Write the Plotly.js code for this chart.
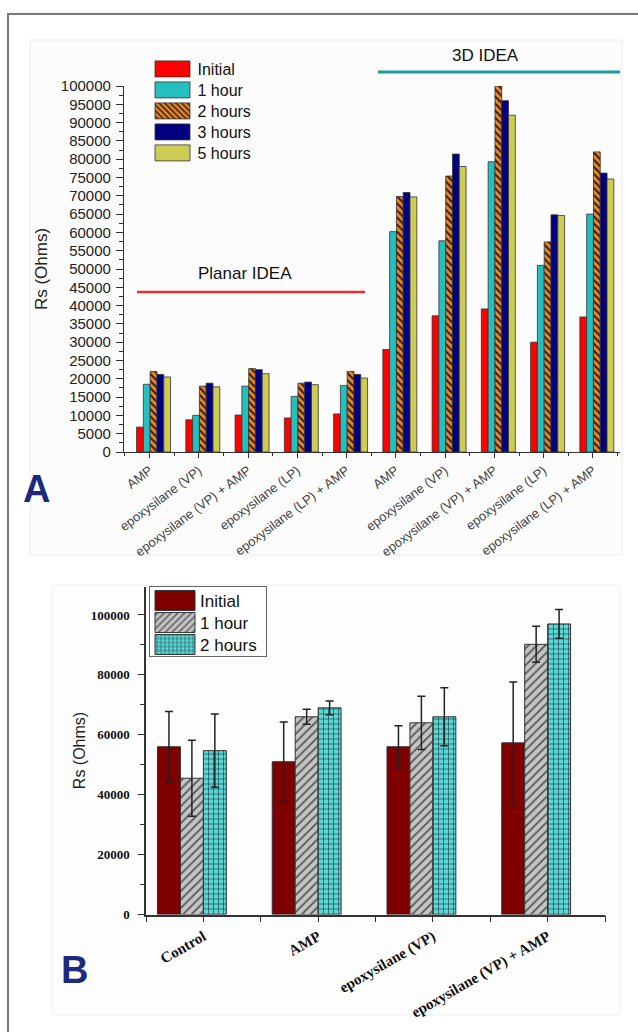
<!DOCTYPE html>
<html>
<head>
<meta charset="utf-8">
<script src="https://cdn.plot.ly/plotly-3.0.1.min.js"></script>
<style>html,body{margin:0;padding:0;background:#fff;}#chart{width:638px;height:1032px;}</style>
</head>
<body>
<div id="chart"></div>
<script>
// ---------- Panel A data ----------
const categoriesA = ['AMP','epoxysilane (VP)','epoxysilane (VP) + AMP','epoxysilane (LP)','epoxysilane (LP) + AMP',
                     'AMP','epoxysilane (VP)','epoxysilane (VP) + AMP','epoxysilane (LP)','epoxysilane (LP) + AMP'];
const seriesNamesA = ['Initial','1 hour','2 hours','3 hours','5 hours'];
const initialA = [6800, 8800, 10100, 9300, 10400, 28000, 37200, 39100, 30000, 36900];
const hour1A   = [18500, 10000, 18000, 15200, 18200, 60200, 57700, 79300, 51000, 65000];
const hour2A   = [22000, 18000, 22800, 18800, 22000, 69800, 75400, 100000, 57400, 82000];
const hour3A   = [21200, 18800, 22500, 19100, 21200, 70900, 81400, 96000, 64800, 76200];
const hour5A   = [20500, 17800, 21400, 18400, 20200, 69700, 78000, 92000, 64600, 74600];
const yTicksA  = [0,5000,10000,15000,20000,25000,30000,35000,40000,45000,50000,55000,60000,65000,70000,75000,80000,85000,90000,95000,100000];

// ---------- Panel B data ----------
const categoriesB = ['Control','AMP','epoxysilane (VP)','epoxysilane (VP) + AMP'];
const seriesNamesB = ['Initial','1 hour','2 hours'];
const initialB = [56000, 51000, 56000, 57300];
const errInitialB = [11800, 13300, 7000, 20300];
const hour1B = [45500, 66000, 64000, 90200];
const errHour1B = [12700, 2500, 8900, 6000];
const hour2B = [54700, 69000, 66000, 97000];
const errHour2B = [12200, 2300, 9700, 4800];
const yTicksB = [0,20000,40000,60000,80000,100000];

// ---------- helpers ----------
const W = 638, H = 1032;
const px = v => v / W;
const py = v => 1 - v / H;
const idx = arr => arr.map((_, i) => i);
const sans = 'Liberation Sans, Arial, sans-serif';
const serif = 'Liberation Serif, Times New Roman, serif';

// Panel A traces
const valsA = [initialA, hour1A, hour2A, hour3A, hour5A];
const stylesA = [
  {color:'#ff0000'},
  {color:'#26bfbf'},
  {color:'#ec8420', pattern:{shape:'\\', fgcolor:'#1a1a1a', bgcolor:'#ec8420', fillmode:'replace', size:5, solidity:0.35}},
  {color:'#000080'},
  {color:'#cdcd55'}
];
const bwA = 0.138, startA = -0.265;
const traces = [];
valsA.forEach((v, k) => {
  traces.push({
    type:'bar', x: idx(v), y: v, name: seriesNamesA[k],
    xaxis:'x', yaxis:'y', legend:'legend',
    width: bwA, offset: startA + k*bwA,
    marker: Object.assign({line:{color:'#333', width:0.8}}, stylesA[k]),
    hoverinfo:'y'
  });
});

// Panel B traces
const valsB = [initialB, hour1B, hour2B];
const errsB = [errInitialB, errHour1B, errHour2B];
const stylesB = [
  {color:'#7f0000'},
  {color:'#c4c4c4', pattern:{shape:'/', fgcolor:'#555555', bgcolor:'#c4c4c4', fillmode:'replace', size:6, solidity:0.3}},
  {color:'#5ad8d4', pattern:{shape:'+', fgcolor:'#1d2a3a', bgcolor:'#5ad8d4', fillmode:'replace', size:5, solidity:0.22}}
];
const bwB = 0.2, startB = -0.4;
valsB.forEach((v, k) => {
  traces.push({
    type:'bar', x: idx(v), y: v, name: seriesNamesB[k],
    xaxis:'x2', yaxis:'y2', legend:'legend2',
    width: bwB, offset: startB + k*bwB,
    marker: Object.assign({line:{color:'#333', width:1}}, stylesB[k]),
    error_y:{type:'data', array: errsB[k], visible:true, color:'#222', thickness:1.5, width:4},
    hoverinfo:'y'
  });
});

const layout = {
  width: W, height: H,
  margin:{l:0, r:0, t:0, b:0},
  paper_bgcolor:'#ffffff',
  plot_bgcolor:'rgba(0,0,0,0)',
  barmode:'group',
  showlegend:true,
  font:{family: sans, color:'#222'},
  xaxis:{
    domain:[px(124), px(620)], anchor:'y',
    range:[-0.52, 9.55], tickmode:'array', tickvals: idx(categoriesA), ticktext: categoriesA,
    tickangle:-37, tickfont:{family:sans, size:13, color:'#444'},
    ticks:'outside', ticklen:5, tickcolor:'#333',
    minor:{dtick:0.5, tick0:0.5, ticks:'outside', ticklen:3, tickcolor:'#333'},
    showline:true, linecolor:'#333', linewidth:1.2, showgrid:false, zeroline:false, fixedrange:true
  },
  yaxis:{
    domain:[py(452), py(86)], anchor:'x',
    range:[0, 100000], tickmode:'array', tickvals: yTicksA, ticktext: yTicksA.map(String),
    tickfont:{family:sans, size:15, color:'#222'},
    ticks:'outside', ticklen:7, tickcolor:'#333', ticklabelstandoff:2,
    minor:{dtick:2500, ticks:'outside', ticklen:4, tickcolor:'#333'},
    showline:true, linecolor:'#333', linewidth:1.2, showgrid:false, zeroline:false,
    title:{text:'Rs (Ohms)', font:{family:sans, size:17, color:'#222'}, standoff:8}, fixedrange:true
  },
  xaxis2:{
    domain:[px(146), px(605)], anchor:'y2',
    range:[-0.5, 3.5], tickmode:'array', tickvals: idx(categoriesB), ticktext: categoriesB,
    tickangle:-30, tickfont:{family:serif, size:15, color:'#111', weight:'bold'},
    ticks:'outside', ticklen:6, tickcolor:'#333',
    minor:{dtick:0.5, tick0:0.5, ticks:'outside', ticklen:6, tickcolor:'#333'},
    showline:true, linecolor:'#333', linewidth:1.5, showgrid:false, zeroline:false, fixedrange:true
  },
  yaxis2:{
    domain:[py(914.5), py(586.5)], anchor:'x2',
    range:[0, 109500], tickmode:'array', tickvals: yTicksB, ticktext: yTicksB.map(String),
    tickfont:{family:serif, size:13, color:'#111', weight:'bold'},
    ticks:'outside', ticklen:6, tickcolor:'#333', ticklabelstandoff:6,
    minor:{dtick:10000, ticks:'outside', ticklen:4, tickcolor:'#333'},
    showline:true, linecolor:'#333', linewidth:1.5, showgrid:false, zeroline:false,
    title:{text:'Rs (Ohms)', font:{family:sans, size:16, color:'#222'}, standoff:1}, fixedrange:true
  },
  legend:{
    x: px(147.5), y: py(52), xanchor:'left', yanchor:'top',
    bgcolor:'rgba(0,0,0,0)', borderwidth:0, itemwidth:40,
    font:{family:sans, size:16, color:'#111'}, traceorder:'normal', tracegroupgap:0,
    itemclick:false, itemdoubleclick:false
  },
  legend2:{
    x: px(149), y: py(586), xanchor:'left', yanchor:'top',
    bgcolor:'#ffffff', bordercolor:'#666', borderwidth:1, itemwidth:40,
    font:{family:sans, size:17, color:'#111'}, traceorder:'normal', tracegroupgap:0,
    itemclick:false, itemdoubleclick:false
  },
  shapes:[
    {type:'rect', xref:'paper', yref:'paper', x0:px(8), x1:1.05, y0:-0.05, y1:py(14), line:{color:'#7a7a7a', width:2}, layer:'below'},
    {type:'rect', xref:'paper', yref:'paper', x0:px(30), x1:px(622), y0:py(555), y1:py(40), fillcolor:'#fcfcfc', line:{color:'#ececec', width:1}, layer:'below'},
    {type:'rect', xref:'paper', yref:'paper', x0:px(52), x1:px(620), y0:py(1015), y1:py(585), fillcolor:'#fdfdfd', line:{color:'#efefef', width:1}, layer:'below'},
    {type:'line', xref:'paper', yref:'paper', x0:px(137), x1:px(365), y0:py(292), y1:py(292), line:{color:'#ee2b2b', width:2.5}},
    {type:'line', xref:'paper', yref:'paper', x0:px(378), x1:px(620), y0:py(72), y1:py(72), line:{color:'#1e9c9a', width:3}}
  ],
  annotations:[
    {xref:'paper', yref:'paper', x:px(245), y:py(273), xanchor:'center', yanchor:'middle', text:'Planar IDEA', showarrow:false, font:{family:sans, size:17, color:'#111'}},
    {xref:'paper', yref:'paper', x:px(485), y:py(56), xanchor:'center', yanchor:'middle', text:'3D IDEA', showarrow:false, font:{family:sans, size:17, color:'#111'}},
    {xref:'paper', yref:'paper', x:px(36), y:py(489), xanchor:'center', yanchor:'middle', text:'A', showarrow:false, font:{family:sans, size:38, color:'#1b2a7e', weight:'bold'}},
    {xref:'paper', yref:'paper', x:px(74), y:py(970), xanchor:'center', yanchor:'middle', text:'B', showarrow:false, font:{family:sans, size:38, color:'#1b2a7e', weight:'bold'}}
  ]
};

const legendBase = {};
function spread(gd, cls, spacing, dy){
  const items = gd.querySelectorAll('g.' + cls + ' g.traces');
  if(!items.length) return;
  if(!legendBase[cls]){
    const m = /translate\(\s*([-\d.e]+)[ ,]+([-\d.e]+)/.exec(items[0].getAttribute('transform') || '');
    if(!m) return;
    legendBase[cls] = [+m[1], +m[2]];
  }
  const x0 = legendBase[cls][0], y0 = legendBase[cls][1] + dy;
  items.forEach((g, i) => g.setAttribute('transform', 'translate(' + x0 + ',' + (y0 + i * spacing) + ')'));
}
function fixLegends(gd){
  gd.querySelectorAll('g.legend g.legendpoints path').forEach(p => p.setAttribute('d', 'M-17.5,-8H17.5V8H-17.5Z'));
  gd.querySelectorAll('g.legend2 g.legendpoints path').forEach(p => p.setAttribute('d', 'M-20,-10H20V10H-20Z'));
  spread(gd, 'legend', 21, 0);
  spread(gd, 'legend2', 22, -4);
  const bg = gd.querySelector('g.legend2 rect.bg');
  if(bg){ bg.setAttribute('height', 70); bg.setAttribute('width', 117); }
}
const gdiv = document.getElementById('chart');
Plotly.newPlot(gdiv, traces, layout, {displayModeBar:false}).then(function(gd){
  fixLegends(gd);
  gd.on('plotly_afterplot', function(){ fixLegends(gd); });
  setTimeout(function(){ fixLegends(gd); }, 50);
});
</script>
</body>
</html>
